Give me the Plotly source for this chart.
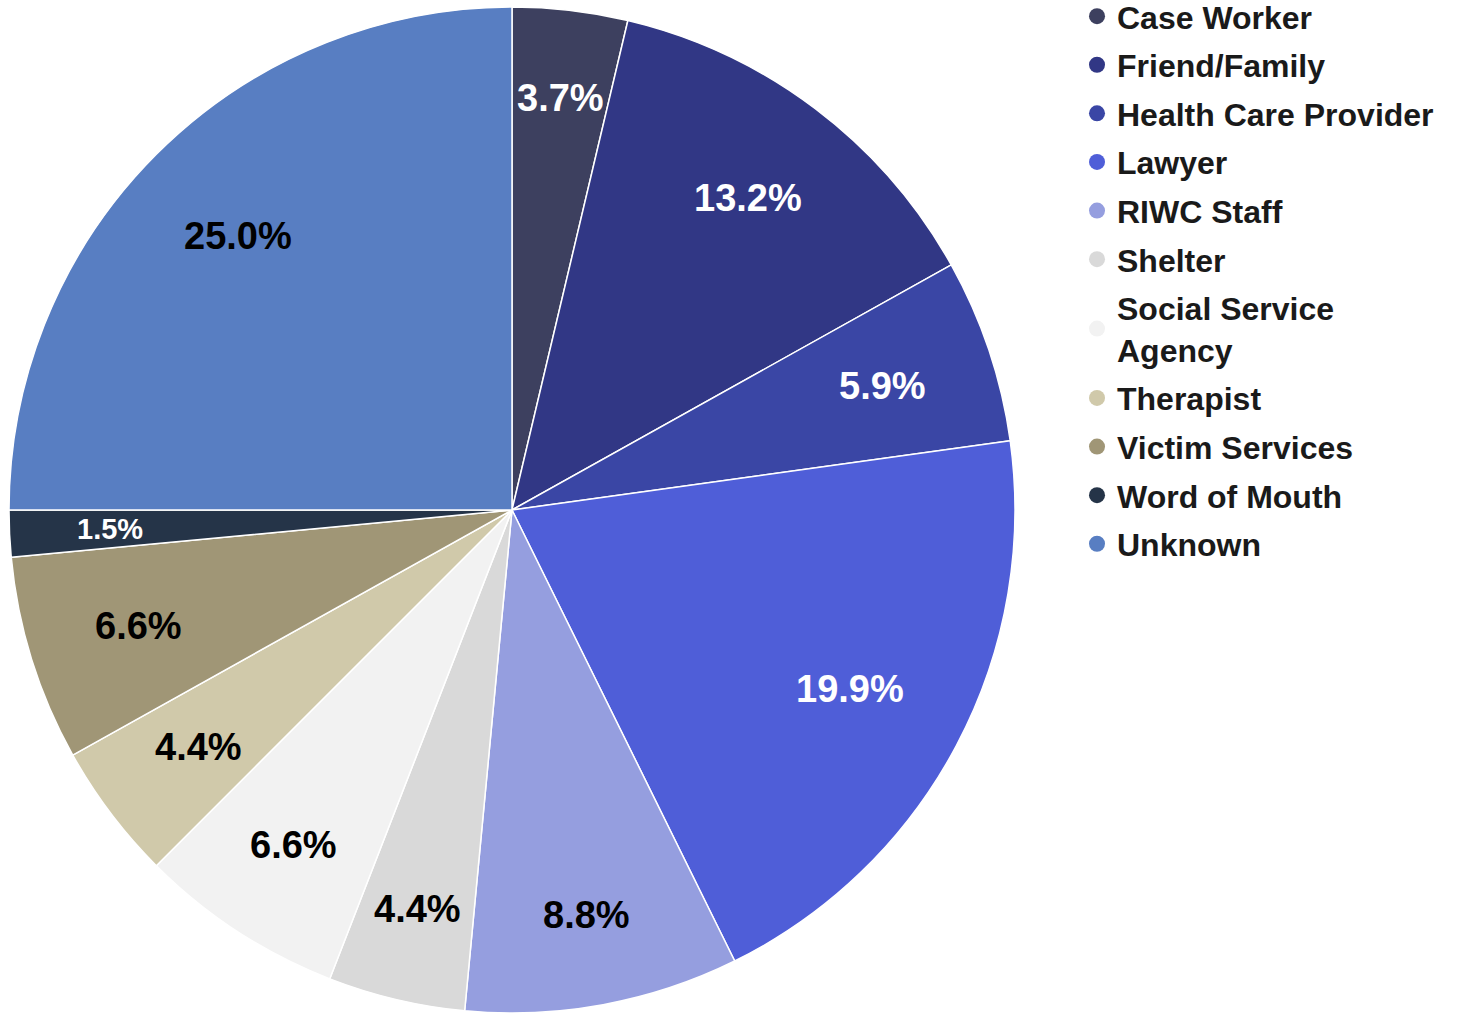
import math
import plotly.graph_objects as go

# Referral sources, share of all referrals (percent)
sources = [
    "Case Worker", "Friend/Family", "Health Care Provider", "Lawyer",
    "RIWC Staff", "Shelter", "Social Service<br>Agency", "Therapist",
    "Victim Services", "Word of Mouth", "Unknown",
]
shares = [3.7, 13.2, 5.9, 19.9, 8.8, 4.4, 6.6, 4.4, 6.6, 1.5, 25.0]

colors = [
    "#3d405f", "#313785", "#3a46a5", "#4f5ed8", "#959edf", "#d9d9d9",
    "#f2f2f2", "#d0c9aa", "#a09676", "#253448", "#587ec2",
]
label_colors = [
    "white", "white", "white", "white", "black", "black",
    "black", "black", "black", "white", "black",
]

W, H = 1457, 1013
CX_PX, CY_PX, R_PX = 512, 510, 503   # pie centre (from top-left) and radius
FONT = "Arial, Liberation Sans, Helvetica, sans-serif"

fig = go.Figure()
fig.add_trace(go.Pie(
    labels=sources,
    values=shares,
    sort=False,
    direction="clockwise",
    rotation=0,
    marker=dict(colors=colors, line=dict(color="white", width=1.5)),
    textinfo="none",
    hoverinfo="label+percent",
    showlegend=False,
    domain=dict(
        x=[(CX_PX - R_PX) / W, (CX_PX + R_PX) / W],
        y=[(H - CY_PX - R_PX) / H, (H - CY_PX + R_PX) / H],
    ),
))

# Legend entries drawn with round markers, one group each for extra spacing
for name, col in zip(sources, colors):
    fig.add_trace(go.Scatter(
        x=[None], y=[None], mode="markers", name=name,
        legendgroup=name,
        marker=dict(symbol="circle", size=18, color=col),
        hoverinfo="skip",
    ))

# Percentage labels placed inside each slice, pushed outward until
# the outer corner of the text box reaches a fixed distance from the centre
total = sum(shares)
cum = 0.0
annotations = []
char_w = {".": 0.278, "%": 0.889}
for v, tc in zip(shares, label_colors):
    mid = (cum + v / 2) / total * 2 * math.pi
    cum += v
    txt = f"{v / total * 100:.1f}%"
    fs = 29 if v < 2 else 38
    hw = sum(char_w.get(c, 0.556) for c in txt) * fs / 2 * 0.97
    hh = 0.36 * fs
    ux, uy = math.sin(mid), math.cos(mid)
    hx = math.copysign(hw, ux)
    hy = math.copysign(hh, uy)
    D = 0.865 * R_PX
    uh = ux * hx + uy * hy
    r = -uh + math.sqrt(uh * uh - (hx * hx + hy * hy) + D * D)
    px = CX_PX + r * ux
    py = (H - CY_PX) + r * uy
    annotations.append(dict(
        x=px / W, y=py / H, xref="paper", yref="paper",
        text=f"<b>{txt}</b>", showarrow=False,
        xanchor="center", yanchor="middle",
        font=dict(family=FONT, size=fs, color=tc),
    ))

fig.update_layout(
    width=W, height=H,
    margin=dict(l=0, r=0, t=0, b=0, autoexpand=False),
    paper_bgcolor="white",
    plot_bgcolor="white",
    xaxis=dict(visible=False),
    yaxis=dict(visible=False),
    annotations=annotations,
    legend=dict(
        x=0.7392, y=1.011, xanchor="left", yanchor="top",
        font=dict(family=FONT, size=32, color="#1a1a1a", weight="bold"),
        itemsizing="trace",
        tracegroupgap=4,
        maxheight=H,
        bgcolor="rgba(0,0,0,0)",
    ),
    showlegend=True,
)

fig.write_html("out.html")
